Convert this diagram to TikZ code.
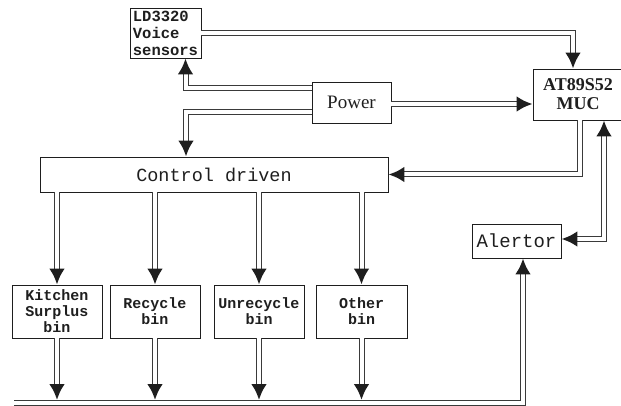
\documentclass[tikz,border=0pt]{standalone}
\usepackage{fontspec}
\setmainfont{Liberation Serif}
\setmonofont{Liberation Mono}
\usetikzlibrary{positioning,arrows.meta,calc,decorations.markings}
\definecolor{ink}{HTML}{1E1E1E}
\definecolor{wire}{HTML}{3A3A3A}

\begin{document}
\begin{tikzpicture}[x=1pt, y=-1pt,
    box/.style={draw=ink, line width=0.9pt, inner sep=0pt, align=center, text=ink},
    bin/.style={box, minimum width=90pt, minimum height=53pt, font=\ttfamily\bfseries\fontsize{15}{16}\selectfont},
    dbl/.style={draw=wire, line width=1pt, double=white, double distance=4pt},
    dblto/.style={dbl, shorten >=14pt, postaction={draw=none, decorate,
        decoration={markings, mark=at position 1 with {\arrow[ink]{Latex[length=16pt,width=16pt]}}}}},
    dblboth/.style={dblto, shorten <=14pt, postaction={draw=none, decorate,
        decoration={markings, mark=at position 0 with {\arrowreversed[ink]{Latex[length=16pt,width=16pt]}}}}}]
        \useasboundingbox (0,0) rectangle (621,406);
        \node[box, minimum width=71pt, minimum height=50pt, font=\ttfamily\bfseries\fontsize{15.5}{17}\selectfont, align=left]
              (ld) at (165.5,33) {LD3320\\Voice\\sensors};
        \node[box, minimum width=79pt, minimum height=41pt, font=\fontsize{19}{20}\selectfont] (power) at (351.5,102.5) {Power};
        \node[box, minimum width=90pt, minimum height=51pt, font=\bfseries\fontsize{18}{19}\selectfont] (muc) at (578,94.5) {AT89S52\\MUC};
        \node[box, minimum width=348pt, minimum height=35pt, font=\ttfamily\fontsize{18.5}{19}\selectfont] (ctrl) at (214,174.5) {Control driven};
        \node[box, minimum width=89pt, minimum height=34pt, font=\ttfamily\fontsize{19}{20}\selectfont] (alert) at (516.5,241) {Alertor};
        \node[bin] (kit) at (57,311.5) {Kitchen\\Surplus\\bin};
        \node[bin] (rec) at (155,311.5) {Recycle\\bin};
        \node[bin] (unr) at (259,311.5) {Unrecycle\\bin};
        \node[bin, minimum width=91pt] (oth) at (361.5,311.5) {Other\\bin};
        \coordinate (busL) at (14,403);
        \coordinate (busR) at (523,403);
        \draw[dblto] ([yshift=14pt]power.west) -| ([xshift=20pt]ld.south);
        \draw[dblto] ([yshift=-10pt]power.west) -| ([xshift=-28pt]ctrl.north);
        \draw[dblto] (ld.east) -| ([xshift=-5pt]muc.north);
        \draw[dblto] ([yshift=-1.5pt]power.east) -- ([yshift=-1.5pt]power.east -| muc.west);
        \draw[dblto] ([xshift=2pt]muc.south) |- (ctrl.east);
        \draw[dblboth] ([xshift=26pt]muc.south) |- ([yshift=2pt]alert.east);
        \foreach \b in {kit,rec,unr,oth}
          \draw[dblto] (ctrl.south -| \b.north) -- (\b.north);
        \draw[dblto] (busL) -- (busR) -- (busR |- alert.south);
        \foreach \b in {kit,rec,unr,oth}
          \draw[dblto] (\b.south) -- ([yshift=3pt]\b.south |- busL);
      \end{tikzpicture}
\end{document}
